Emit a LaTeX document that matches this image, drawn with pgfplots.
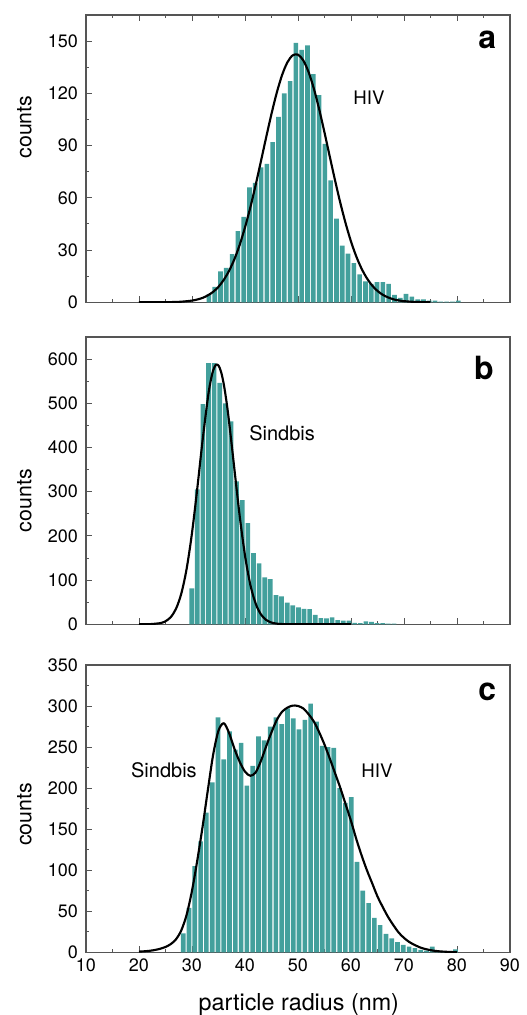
\documentclass[border=0pt]{standalone}
\usepackage{fontspec}
\setmainfont{TeX Gyre Heros}
\usepackage{pgfplots}
\pgfplotsset{compat=1.18}

\definecolor{barteal}{RGB}{67,160,156}
\definecolor{framegray}{RGB}{85,85,85}

\pgfplotsset{
  panel/.style={
    scale only axis, width=318pt, height=215.5pt,
    xmin=10, xmax=90, ymin=0,
    xtick={10,20,...,90}, minor x tick num=1, minor y tick num=1,
    tick align=inside, major tick length=4.5pt, minor tick length=2.5pt,
    axis line style={framegray, line width=0.9pt},
    every tick/.style={framegray, line width=0.7pt},
    ytick pos=left, xtick pos=bottom,
    ticklabel style={font=\fontsize{13.5}{16}\selectfont},
    xticklabel style={inner ysep=0.5pt, inner xsep=1pt, yshift=-4pt},
    yticklabel style={inner ysep=0.5pt, xshift=-2.5pt},
    /pgf/number format/assume math mode=true,
    label style={font=\fontsize{16}{19}\selectfont},
    ylabel={counts},
  },
  bars/.style={ybar, bar width=0.88, bar shift=0pt, fill=barteal, draw=none},
  fit/.style={smooth, black, line width=1.6pt, mark=none, line join=round},
}
\tikzset{tag/.style={font=\fontsize{24}{28}\selectfont\bfseries}}

\begin{document}
\begin{tikzpicture}
\useasboundingbox (0,0) rectangle (394.5pt,-761.25pt);

% panel a: HIV
\begin{axis}[panel, at={(64.5pt,-226.7pt)}, anchor=south west,
    ymax=165, ytick={0,30,...,150}, xticklabels={}, xtick pos=both,
    ylabel style={at={(axis description cs:-0.145,0.61)}, anchor=center}]
  \addplot[bars] coordinates {
    (33.19,4.6) (34.28,8.8) (35.38,17.8) (36.47,19.7) (37.57,27.7) (38.66,40.8)
    (39.75,49) (40.85,66) (41.94,68.5) (43.04,77.5) (44.13,79.5) (45.22,92)
    (46.32,106.5) (47.41,120) (48.51,127) (49.60,149) (50.69,145) (51.79,147.5)
    (52.88,131) (53.98,119) (55.07,91) (56.16,70) (57.26,48) (58.35,32.5)
    (59.45,28) (60.54,22.5) (61.63,16) (62.73,12) (63.82,10.5) (64.92,11.5)
    (66.01,11.5) (67.10,10.5) (68.20,4.2) (69.29,2.5) (70.39,4.8) (71.48,3.2)
    (72.58,1.7) (73.67,1.7) (74.76,1.0) (75.86,1.0) (76.95,0.4) (78.05,0.4)
    (79.14,0.4) (80.24,1.0)};
  \addplot[fit] coordinates {
    (20,0) (24,0.03) (26,0.1) (28,0.33) (30,0.96) (31,1.6) (32,2.5) (33,4.0)
    (34,6.0) (35,8.9) (36,12.9) (37,18.1) (38,24.7) (39,33.0) (40,43.0)
    (41,54.4) (42,67.2) (43,80.9) (44,94.8) (45,108.2) (46,120.4) (47,130.5)
    (48,137.8) (49,141.8) (50,142.2) (51,138.9) (52,132.2) (53,122.6)
    (54,110.8) (55,97.5) (56,83.6) (57,69.9) (58,56.9) (59,45.2) (60,34.9)
    (61,26.3) (62,19.3) (63,13.8) (64,9.6) (65,6.5) (66,4.3) (67,2.8)
    (68,1.7) (69,1.07) (70,0.64) (72,0.21) (75,0.03)};
  \node[tag] at (axis cs:85.7,150.6) {a};
  \node[font=\fontsize{14}{17}\selectfont] at (axis cs:63.4,117.3) {HIV};
\end{axis}

% panel b: Sindbis
\begin{axis}[panel, at={(64.5pt,-468.2pt)}, anchor=south west,
    ymax=650, ytick={0,100,...,600}, xticklabels={},
    ylabel style={at={(axis description cs:-0.145,0.43)}, anchor=center}]
  \addplot[bars] coordinates {
    (29.94,81.5) (31.00,305) (32.06,498) (33.12,591) (34.18,591) (35.24,546)
    (36.30,500) (37.36,459) (38.42,323) (39.48,281) (40.54,229) (41.60,161)
    (42.66,138) (43.72,106) (44.78,102) (45.84,66) (46.90,63) (47.96,49)
    (49.02,42.5) (50.08,38) (51.14,35) (52.20,34) (53.26,21.5) (54.32,14)
    (55.38,13.5) (56.44,15.5) (57.50,9.5) (58.56,8) (59.62,8.5) (60.68,3)
    (61.74,2.6) (62.80,6.4) (63.86,5.7) (64.92,2.6) (65.98,2.6) (67.04,1.2)
    (68.10,1.2)};
  \addplot[fit] coordinates {
    (20,0.02) (22,0.28) (24,2.6) (25,6.8) (26,16.3) (27,35.5) (28,70.2)
    (29,126.3) (30,206.6) (31,307.5) (32,416.4) (33,512.8) (33.5,549.3)
    (34,574.5) (34.5,586.9) (35,585.5) (35.5,570.5) (36,542.8) (36.5,504.4)
    (37,457.8) (38,351.2) (39,245.0) (40,155.6) (41,89.8) (42,47.2) (43,22.5)
    (44,9.8) (45,3.9) (46,1.4) (47,0.46) (48,0.13) (50,0.01) (55,0) (60,0)};
  \node[tag] at (axis cs:85.1,580) {b};
  \node[font=\fontsize{15}{18}\selectfont] at (axis cs:47.0,433) {Sindbis};
\end{axis}

% panel c: mixture
\begin{axis}[panel, at={(64.5pt,-714.2pt)}, anchor=south west,
    ymax=350, ytick={0,50,...,350},
    xlabel={particle radius (nm)},
    xlabel style={at={(axis description cs:0.502,-0.182)}, anchor=center,
                  font=\fontsize{17.5}{21}\selectfont},
    ylabel style={at={(axis description cs:-0.145,0.48)}, anchor=center}]
  \addplot[bars] coordinates {
    (28.34,23) (29.43,54) (30.53,105) (31.62,135) (32.71,170) (33.81,207)
    (34.90,286) (35.99,235) (37.08,269) (38.18,247) (39.27,255) (40.36,203)
    (41.46,227) (42.55,263) (43.64,258) (44.74,275) (45.83,286) (46.92,278)
    (48.01,297) (49.11,285) (50.20,271.5) (51.29,283) (52.39,303) (53.48,281)
    (54.57,251.5) (55.67,250) (56.76,249) (57.85,200) (58.94,182) (60.04,189)
    (61.13,110) (62.22,75) (63.32,60) (64.41,42) (65.50,33) (66.60,22.4)
    (67.69,17) (68.78,12.5) (69.87,9) (70.97,7) (72.06,5) (73.15,3)
    (74.25,2) (75.34,7) (76.43,1.5) (77.53,1) (78.62,1) (79.71,3.5)};
  \addplot[fit] coordinates {
    (20,0.8) (21,1.2) (22,1.8) (23,2.8) (24,4.3) (25,6.5) (26,10) (27,16)
    (28,27) (29,46) (30,75) (31,112) (32,153) (33,198) (34,241) (35,270)
    (36,279) (37,267) (38,248) (39,232) (40,220) (41,215) (42,219) (43,233)
    (44,251) (45,268) (46,283) (47,293) (48,298) (49,300.5) (50,300) (51,297)
    (52,290) (53,281) (54,268) (55,253) (56,236) (57,218) (58,200) (59,180)
    (60,160) (61,138) (62,118) (63,100) (64,84) (65,68) (66,55) (67,43)
    (68,33) (69,24) (70,17.5) (71,12.5) (72,9) (73,6) (74,4) (75,2.6)
    (76,1.6) (77,1) (78,0.6) (79,0.3) (80,0.1)};
  \node[tag] at (axis cs:85.7,316.7) {c};
  \node[font=\fontsize{15}{18}\selectfont] at (axis cs:24.7,221.5) {Sindbis};
  \node[font=\fontsize{14}{17}\selectfont] at (axis cs:64.9,221.5) {HIV};
\end{axis}
\end{tikzpicture}
\end{document}
